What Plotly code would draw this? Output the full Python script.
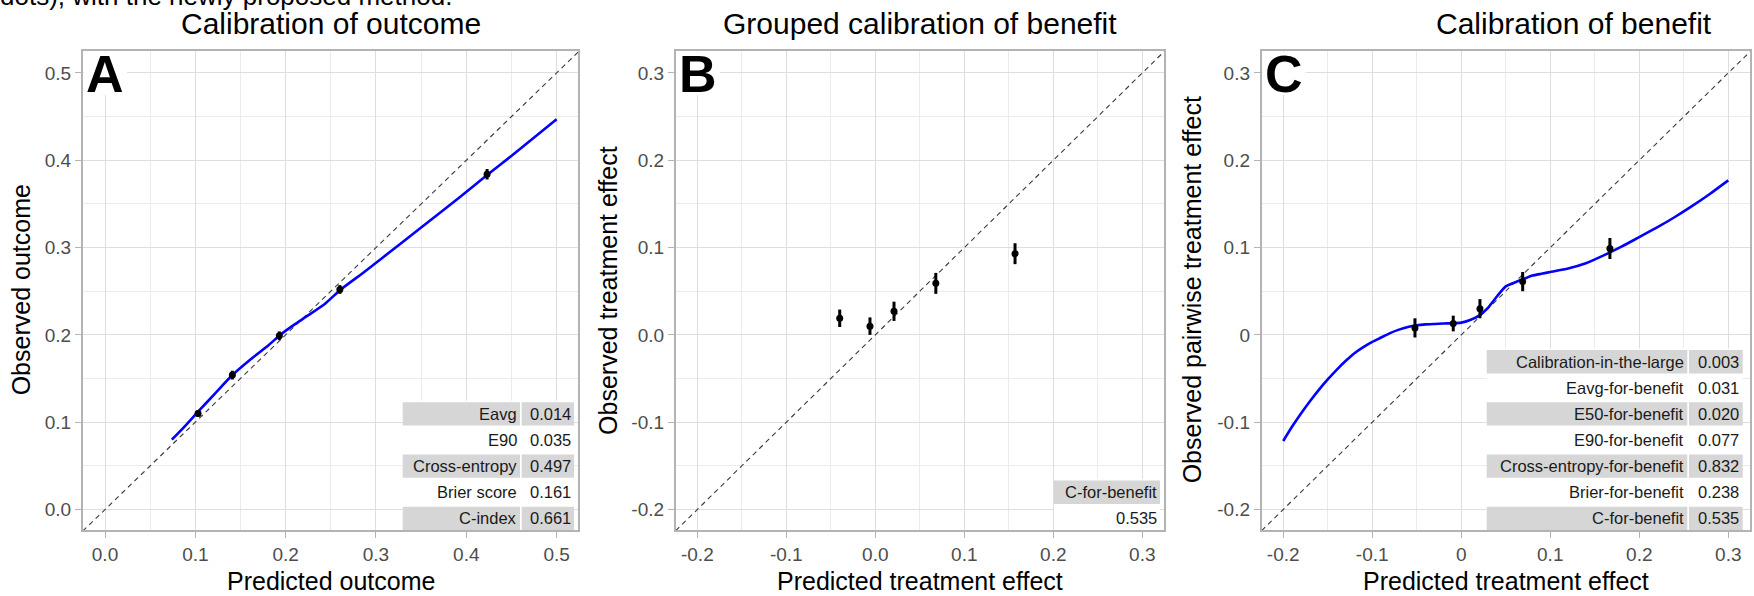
import plotly.graph_objects as go

# ---------------- data ----------------
# Panel A: calibration of outcome
a_curve_x = [0.074, 0.088, 0.103, 0.122, 0.141, 0.160, 0.181, 0.194, 0.210, 0.223, 0.244, 0.261,
             0.287, 0.308, 0.350, 0.392, 0.423, 0.456, 0.500]
a_curve_y = [0.080, 0.095, 0.112, 0.133, 0.154, 0.171, 0.188, 0.200, 0.212, 0.221, 0.236, 0.252,
             0.272, 0.289, 0.323, 0.357, 0.383, 0.410, 0.447]
a_pts_x = [0.103, 0.141, 0.193, 0.260, 0.423]
a_pts_y = [0.110, 0.154, 0.199, 0.252, 0.384]
a_pts_err = [0.004, 0.005, 0.005, 0.005, 0.006]

# Panel B: grouped calibration of benefit
b_pts_x = [-0.040, -0.006, 0.021, 0.068, 0.157]
b_pts_y = [0.019, 0.010, 0.027, 0.059, 0.093]
b_pts_err = [0.010, 0.010, 0.011, 0.012, 0.012]

# Panel C: calibration of benefit
c_curve_x = [-0.20, -0.19, -0.18, -0.17, -0.16, -0.15, -0.14, -0.13, -0.12, -0.11, -0.10, -0.09,
             -0.08, -0.07, -0.06, -0.05, -0.04, -0.03, -0.02, -0.01, 0.00, 0.01, 0.02, 0.03,
             0.04, 0.05, 0.06, 0.07, 0.08, 0.09, 0.10, 0.12, 0.14, 0.16, 0.18, 0.20, 0.22,
             0.24, 0.26, 0.28, 0.30]
c_curve_y = [-0.1215, -0.105, -0.090, -0.076, -0.063, -0.051, -0.040, -0.030, -0.021, -0.014,
             -0.008, -0.003, 0.002, 0.006, 0.009, 0.011, 0.012, 0.0125, 0.013, 0.0133, 0.014,
             0.017, 0.022, 0.031, 0.044, 0.0555, 0.060, 0.064, 0.068, 0.070, 0.072, 0.076,
             0.082, 0.091, 0.101, 0.112, 0.123, 0.135, 0.148, 0.162, 0.177]
c_pts_x = [-0.052, -0.009, 0.021, 0.069, 0.167]
c_pts_y = [0.008, 0.013, 0.030, 0.061, 0.099]
c_pts_err = [0.011, 0.009, 0.011, 0.011, 0.012]

# Tick values / labels
ticks_a = [0.0, 0.1, 0.2, 0.3, 0.4, 0.5]
ticktext_a = ["0.0", "0.1", "0.2", "0.3", "0.4", "0.5"]
ticks_bc = [-0.2, -0.1, 0.0, 0.1, 0.2, 0.3]
ticktext_b = ["-0.2", "-0.1", "0.0", "0.1", "0.2", "0.3"]
ticktext_c = ["-0.2", "-0.1", "0", "0.1", "0.2", "0.3"]

range_a_x = [-0.0247, 0.524]
range_a_y = [-0.0235, 0.5255]
range_bc_x = [-0.2243, 0.3244]
range_bc_y = [-0.2235, 0.3255]

# Text
titles = ["Calibration of outcome", "Grouped calibration of benefit", "Calibration of benefit"]
xtitles = ["Predicted outcome", "Predicted treatment effect", "Predicted treatment effect"]
ytitles = ["Observed outcome", "Observed treatment effect", "Observed pairwise treatment effect"]
letters = ["A", "B", "C"]
caption = "dots), with the newly proposed method."

a_tab_labels = ["Eavg", "E90", "Cross-entropy", "Brier score", "C-index"]
a_tab_values = ["0.014", "0.035", "0.497", "0.161", "0.661"]
b_tab_header = "C-for-benefit"
b_tab_value = "0.535"
c_tab_labels = ["Calibration-in-the-large", "Eavg-for-benefit", "E50-for-benefit", "E90-for-benefit",
                "Cross-entropy-for-benefit", "Brier-for-benefit", "C-for-benefit"]
c_tab_values = ["0.003", "0.031", "0.020", "0.077", "0.832", "0.238", "0.535"]

# ---------------- layout geometry (pixels) ----------------
W, H = 1754, 596
FONT = "Liberation Sans, Arial, sans-serif"
PANELS = [(82.7, 578.3), (675.7, 1164.0), (1261.6, 1750.0)]
PT, PB = 50.7, 530.0
TITLE_CX = [330.5, 919.9, 1574.0]
YTITLE_X = [21.0, 608.6, 1192.0]


def fx(px):
    return px / W


def fy(py):
    return 1 - py / H


fig = go.Figure()

axis_ids = ["", "2", "3"]
xranges = [range_a_x, range_bc_x, range_bc_x]
yranges = [range_a_y, range_bc_y, range_bc_y]
tickvals = [ticks_a, ticks_bc, ticks_bc]
ticktexts = [ticktext_a, ticktext_b, ticktext_c]

for i in range(3):
    xa = "x" + axis_ids[i]
    ya = "y" + axis_ids[i]
    lo = min(xranges[i][0], yranges[i][0])
    hi = max(xranges[i][1], yranges[i][1])
    fig.add_trace(go.Scatter(x=[lo, hi], y=[lo, hi], mode="lines", xaxis=xa, yaxis=ya,
                             line=dict(color="#3a3a3a", width=1.1, dash="5px,4px"),
                             hoverinfo="skip"))

curves = [(a_curve_x, a_curve_y), None, (c_curve_x, c_curve_y)]
pts = [(a_pts_x, a_pts_y, a_pts_err), (b_pts_x, b_pts_y, b_pts_err), (c_pts_x, c_pts_y, c_pts_err)]
for i in range(3):
    xa = "x" + axis_ids[i]
    ya = "y" + axis_ids[i]
    if curves[i] is not None:
        fig.add_trace(go.Scatter(x=curves[i][0], y=curves[i][1], mode="lines", xaxis=xa, yaxis=ya,
                                 line=dict(color="#0000FF", width=2.6, shape="spline", smoothing=0.5)))
    px_, py_, pe_ = pts[i]
    fig.add_trace(go.Scatter(x=px_, y=py_, mode="markers", xaxis=xa, yaxis=ya,
                             marker=dict(color="black", size=7),
                             error_y=dict(type="data", array=pe_, visible=True, color="black",
                                          thickness=3, width=0)))

axis_common = dict(
    showline=True, mirror=True, linecolor="#B3B3B3", linewidth=1.6,
    ticks="outside", ticklen=6, tickwidth=1.4, tickcolor="#B3B3B3",
    showgrid=True, gridcolor="#DEDEDE", gridwidth=1.4, zeroline=False,
    tickfont=dict(family=FONT, size=19, color="#4D4D4D"),
    minor=dict(tickmode="linear", tick0=0.05, dtick=0.1, showgrid=True,
               gridcolor="#EBEBEB", gridwidth=0.9, ticks=""),
    fixedrange=True, tickmode="array",
)

layout_axes = {}
for i in range(3):
    x0, x1 = PANELS[i]
    layout_axes["xaxis" + axis_ids[i]] = dict(
        axis_common, domain=[fx(x0), fx(x1)], range=xranges[i],
        tickvals=tickvals[i], ticktext=ticktexts[i], anchor="y" + axis_ids[i])
    layout_axes["yaxis" + axis_ids[i]] = dict(
        axis_common, domain=[fy(PB), fy(PT)], range=yranges[i],
        tickvals=tickvals[i], ticktext=ticktexts[i], anchor="x" + axis_ids[i])

annotations = []
shapes = []

# caption (cut off at the top edge, as in the source image)
annotations.append(dict(text=caption, x=fx(-2), y=fy(13.5), xref="paper", yref="paper",
                        xanchor="left", yanchor="bottom", showarrow=False,
                        font=dict(family=FONT, size=26, color="black")))

for i in range(3):
    x0, x1 = PANELS[i]
    cx = (x0 + x1) / 2
    annotations.append(dict(text=titles[i], x=fx(TITLE_CX[i]), y=fy(23.5), xref="paper", yref="paper",
                            xanchor="center", yanchor="middle", showarrow=False,
                            font=dict(family=FONT, size=30, color="black")))
    annotations.append(dict(text=xtitles[i], x=fx(cx), y=fy(581), xref="paper", yref="paper",
                            xanchor="center", yanchor="middle", showarrow=False,
                            font=dict(family=FONT, size=25, color="black")))
    annotations.append(dict(text=ytitles[i], x=fx(YTITLE_X[i]), y=fy((PT + PB) / 2),
                            xref="paper", yref="paper", textangle=-90,
                            xanchor="center", yanchor="middle", showarrow=False,
                            font=dict(family=FONT, size=25, color="black")))
    # letter with white box
    shapes.append(dict(type="rect", xref="paper", yref="paper", layer="above",
                       x0=fx(x0 + 1), x1=fx(x0 + 44.3), y0=fy(PT + 44.3), y1=fy(PT + 1),
                       fillcolor="white", line=dict(width=0)))
    annotations.append(dict(text="<b>" + letters[i] + "</b>", x=fx(x0 + 1.5), y=fy(PT + 23),
                            xref="paper", yref="paper", xanchor="left", yanchor="middle",
                            showarrow=False, font=dict(family=FONT, size=52, color="black")))

PITCH, FILL = 26.1, 23.3
GREY = "#D6D6D6"
TXT = dict(family=FONT, size=16.5, color="#1A1A1A")


def add_table(labels, values, lab_x0, lab_x1, val_x0, val_x1):
    n = len(labels)
    top = PB - FILL - PITCH * (n - 1)
    shapes.append(dict(type="rect", xref="paper", yref="paper", layer="above",
                       x0=fx(lab_x0), x1=fx(val_x1), y0=fy(PB), y1=fy(top - 1.5),
                       fillcolor="white", line=dict(width=0)))
    for k in range(n):
        t = top + PITCH * k
        if k % 2 == 0:
            for (c0, c1) in [(lab_x0, lab_x1), (val_x0, val_x1)]:
                shapes.append(dict(type="rect", xref="paper", yref="paper", layer="above",
                                   x0=fx(c0), x1=fx(c1), y0=fy(t + FILL), y1=fy(t),
                                   fillcolor=GREY, line=dict(width=0)))
        yc = t + FILL / 2
        annotations.append(dict(text=labels[k], x=fx(lab_x1 - 1.5), y=fy(yc), xref="paper",
                                yref="paper", xanchor="right", yanchor="middle",
                                showarrow=False, font=TXT))
        annotations.append(dict(text=values[k], x=fx(val_x1 - 1.5), y=fy(yc), xref="paper",
                                yref="paper", xanchor="right", yanchor="middle",
                                showarrow=False, font=TXT))


add_table(a_tab_labels, a_tab_values, 402.7, 520.0, 521.7, 574.0)
add_table(c_tab_labels, c_tab_values, 1486.7, 1687.3, 1689.0, 1742.7)

# Panel B table: grey header + value row
bx0, bx1 = 1054.0, 1160.0
btop = PB - FILL - PITCH
shapes.append(dict(type="rect", xref="paper", yref="paper", layer="above",
                   x0=fx(bx0), x1=fx(bx1), y0=fy(PB), y1=fy(btop - 1.5),
                   fillcolor="white", line=dict(width=0)))
shapes.append(dict(type="rect", xref="paper", yref="paper", layer="above",
                   x0=fx(bx0), x1=fx(bx1), y0=fy(btop + FILL), y1=fy(btop),
                   fillcolor=GREY, line=dict(width=0)))
annotations.append(dict(text=b_tab_header, x=fx(bx1 - 1.5), y=fy(btop + FILL / 2), xref="paper",
                        yref="paper", xanchor="right", yanchor="middle", showarrow=False, font=TXT))
annotations.append(dict(text=b_tab_value, x=fx(bx1 - 1.5), y=fy(btop + PITCH + FILL / 2),
                        xref="paper", yref="paper", xanchor="right", yanchor="middle",
                        showarrow=False, font=TXT))

fig.update_layout(
    width=W, height=H, margin=dict(l=0, r=0, t=0, b=0),
    paper_bgcolor="white", plot_bgcolor="white", showlegend=False,
    annotations=annotations, shapes=shapes,
    font=dict(family=FONT),
    **layout_axes,
)

fig.write_html("out.html", config={"displayModeBar": False})
